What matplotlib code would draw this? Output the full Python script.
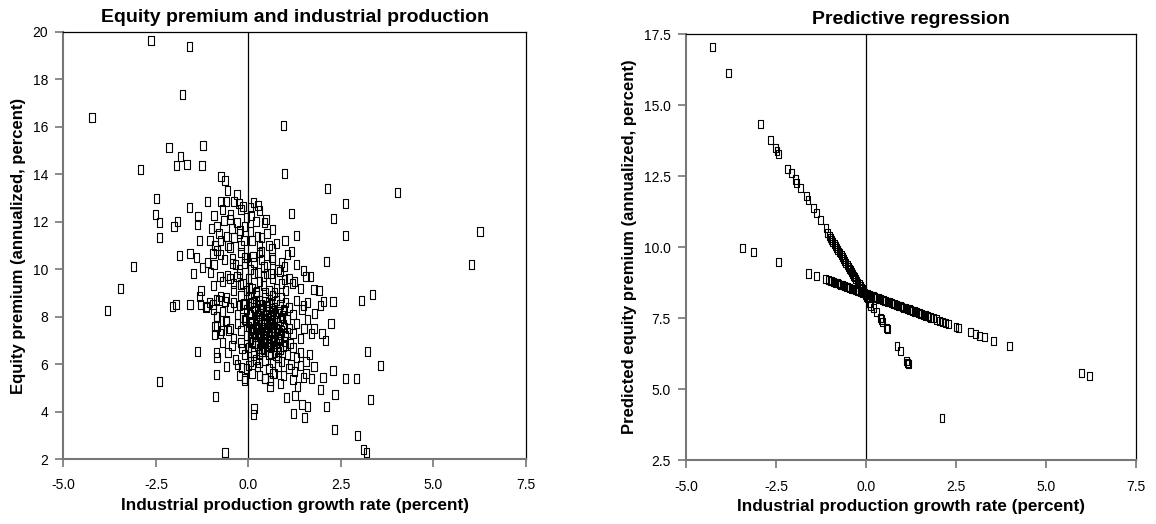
import numpy as np
import matplotlib
matplotlib.use("Agg")
import matplotlib.pyplot as plt
from matplotlib.path import Path

plt.rcParams['font.family'] = ['Liberation Sans', 'DejaVu Sans']
plt.rcParams['axes.unicode_minus'] = False

# ---- left panel: industrial production growth vs equity premium ----
# scattered points
ip_out = [-2.63, -1.60, -1.78, -4.23, 0.94, -2.15, -1.23, -1.84, -1.94, -1.66, -1.26, -2.91,
          0.97, -0.74, -0.63, 2.14, 4.02, -0.56, -2.48, -0.31, 2.63, -1.11, -1.60, -0.76,
          -0.59, -0.39, -0.26, -0.15, 0.14, 0.26, 0.29, -2.51, -1.36, -0.93, -0.49, 0.07,
          1.17, 2.29, -2.40, -1.92, -2.01, -1.38, -0.85, -0.66, -0.31, -0.23, 0.47, 0.43,
          0.65, 6.26, -2.41, -1.33, -1.04, -0.76, -0.39, -0.12, 0.10, 0.35, 0.99, 1.29,
          2.62, 0.64, 0.35, 1.17, -1.86, -1.58, -1.41, -0.96, -0.76, -0.43, -0.11, 0.12,
          0.64, 2.11, 6.03, -3.10, -0.93, -1.25, -0.43, -0.11, 0.42, 0.97, -1.48, -1.03,
          -0.77, -0.57, -0.31, 0.26, 0.41, 0.61, 0.97, 1.49, 1.68, 1.19, -3.46, -1.28,
          -1.33, -0.41, -0.21, 0.01, 0.22, 1.77, 1.91, 3.36, 3.06, 2.02, 2.28, -3.81,
          -2.06, -1.96, -1.58, -1.13, -0.96, -0.86, -0.76, -0.63, 1.49, 1.79, 1.95, 2.23,
          -0.86, -0.61, -0.85, -0.73, -0.54, -0.91, 1.77, 1.99, 2.08, -1.38, -0.86, -0.85,
          3.21, 3.57, 1.77, 2.28, -2.41, -0.86, 1.49, 1.70, 2.01, 2.62, 2.92, 0.86,
          0.58, 1.33, 1.95, -0.89, 1.02, 1.26, 2.34, 3.30, 1.45, 1.59, 2.11, 0.15,
          0.13, 1.22, 1.51, 2.32, 2.95, 3.11, 3.19, -0.63, -0.19, -0.11, 0.45, 0.66]
ep_out = [19.65, 19.39, 17.37, 16.41, 16.04, 15.15, 15.23, 14.75, 14.38, 14.41, 14.38, 14.21,
          14.04, 13.90, 13.72, 13.39, 13.23, 13.30, 12.97, 13.17, 12.77, 12.85, 12.61, 12.85,
          12.86, 12.86, 12.77, 12.63, 12.83, 12.70, 12.49, 12.31, 12.21, 12.28, 12.32, 12.28,
          12.35, 12.15, 11.96, 12.03, 11.82, 11.89, 11.82, 12.04, 11.96, 11.65, 12.10, 11.96,
          11.69, 11.59, 11.35, 11.23, 11.20, 11.23, 11.34, 11.23, 11.23, 11.34, 11.23, 11.42,
          11.42, 10.87, 10.73, 10.75, 10.58, 10.66, 10.48, 10.66, 10.62, 10.45, 10.49, 10.55,
          10.48, 10.32, 10.20, 10.13, 10.20, 10.06, 10.24, 10.24, 10.10, 10.10, 9.82, 9.85,
          9.68, 9.75, 9.68, 9.85, 9.70, 9.82, 9.56, 9.93, 9.68, 9.39, 9.18, 9.11,
          8.86, 9.39, 9.37, 9.25, 9.04, 9.14, 9.11, 8.94, 8.69, 8.62, 8.62, 8.27,
          8.44, 8.51, 8.52, 8.41, 8.51, 8.72, 8.86, 8.62, 8.48, 8.15, 8.48, 7.73,
          8.01, 7.85, 7.59, 7.42, 7.42, 7.24, 7.49, 7.28, 7.00, 6.54, 6.48, 6.30,
          6.54, 5.93, 5.92, 5.73, 5.27, 5.55, 5.45, 5.38, 5.45, 5.38, 5.38, 5.20,
          5.06, 5.06, 4.92, 4.63, 4.58, 4.68, 4.70, 4.52, 4.30, 4.23, 4.23, 4.11,
          3.87, 3.90, 3.76, 3.23, 2.99, 2.42, 2.27, 2.27, 5.87, 5.31, 5.41, 5.59]

# dense cloud around the origin, read band by band
ip_cloud = [-0.20, 0.05, -0.50, -0.70, 0.20, -0.05,
            -1.00, -0.80, -0.60, -0.45, -0.25, -0.10, 0.05, 0.25, 0.50, 0.75, -0.90, -0.55, -0.20, 0.30, 0.55,
            -1.10, -0.85, -0.65, -0.50, -0.35, -0.20, -0.05, 0.15, 0.30, 0.50, 0.65, 0.80, 1.05, -0.25, 0.05,
            0.35, 0.90, 1.30,
            -0.95, -0.70, -0.50, -0.40, -0.25, -0.15, 0.00, 0.10, 0.15, 0.30, 0.40, 0.50, 0.55, 0.65, 0.75,
            0.85, 0.90, 1.00, 1.10, 1.25, 1.40, 1.55, 0.20, -0.05, 0.45, 0.70,
            -1.30, -1.15, -1.05, -0.95, -0.80, -0.70, -0.60, -0.50, -0.40, -0.30, -0.20, -0.15, -0.05, 0.00,
            0.05, 0.10, 0.15, 0.20, 0.25, 0.30, 0.35, 0.40, 0.45, 0.50, 0.55, 0.60, 0.65, 0.70, 0.75, 0.80,
            0.85, 0.90, 0.95, 1.00, 1.10, 1.20, 1.30, 1.45, 1.60, -0.85, -0.25, 0.28, 0.62,
            -0.90, -0.75, -0.60, -0.50, -0.40, -0.30, -0.20, -0.10, -0.05, 0.00, 0.05, 0.10, 0.15, 0.20,
            0.25, 0.30, 0.35, 0.40, 0.42, 0.45, 0.50, 0.52, 0.55, 0.60, 0.62, 0.65, 0.70, 0.72, 0.75, 0.80,
            0.85, 0.90, 0.95, 1.00, 1.05, 1.10, 1.20, 1.30, 1.40, 1.50, 1.60, 1.70, -0.15, 0.33, 0.58,
            0.78, 0.12, 0.48, 0.68, 0.38,
            -0.70, -0.55, -0.45, -0.35, -0.20, -0.10, 0.00, 0.05, 0.10, 0.15, 0.20, 0.25, 0.30, 0.35, 0.40,
            0.45, 0.50, 0.55, 0.60, 0.65, 0.70, 0.75, 0.80, 0.85, 0.90, 1.00, 1.05, 1.15, 1.20, 1.30, 1.40,
            1.55, 1.65, -0.30, 0.28,
            -0.25, -0.10, -0.05, 0.10, 0.25, 0.30, 0.45, 0.55, 0.70, 0.80, 0.95, 1.10, 1.25, 1.40, 1.55,
            -0.60, 0.00, 0.60, 1.20]
ep_cloud = [12.50, 12.60, 12.10, 12.50, 12.00, 12.20,
            11.70, 11.50, 11.40, 11.70, 11.50, 11.80, 11.60, 11.40, 11.50, 11.10, 11.00, 11.00, 11.00, 11.00, 11.00,
            10.30, 10.80, 10.40, 10.90, 10.20, 10.70, 10.50, 10.30, 10.70, 10.20, 10.40, 10.00, 10.60, 10.00, 10.00,
            10.40, 10.30, 10.20,
            9.30, 9.50, 9.60, 9.10, 9.80, 9.40, 9.60, 9.20, 9.80, 9.50, 9.30, 9.80, 9.10, 9.60, 9.20,
            9.90, 9.40, 9.10, 9.60, 9.50, 9.20, 9.70, 9.00, 9.10, 9.00, 9.00,
            8.50, 8.40, 8.60, 8.30, 8.70, 8.20, 8.80, 8.40, 8.60, 8.10, 8.90, 8.50, 8.30, 8.80,
            8.10, 8.60, 8.40, 8.90, 8.20, 8.70, 8.50, 8.05, 8.80, 8.30, 8.60, 8.10, 8.90, 8.40, 8.70, 8.20,
            8.50, 8.80, 8.30, 8.60, 8.40, 8.10, 8.70, 8.30, 8.60, 8.00, 8.45, 8.05, 8.55,
            7.60, 7.30, 7.80, 7.50, 7.10, 7.70, 7.40, 7.90, 7.20, 7.60, 7.05, 7.80, 7.35, 7.60,
            7.15, 7.90, 7.45, 7.70, 7.10, 7.30, 7.85, 7.55, 7.20, 7.65, 7.40, 7.00, 7.75, 7.30, 7.50, 7.10,
            7.85, 7.40, 7.65, 7.20, 7.90, 7.50, 7.30, 7.70, 7.10, 7.50, 7.90, 7.30, 7.95, 7.25, 7.95,
            7.95, 7.50, 7.45, 7.55, 7.55,
            6.90, 6.50, 6.80, 6.20, 6.90, 6.40, 6.70, 6.10, 6.90, 6.50, 6.20, 6.80, 6.40, 6.95, 6.60,
            6.15, 6.85, 6.40, 6.70, 6.05, 6.50, 6.85, 6.30, 6.60, 6.10, 6.80, 6.40, 6.00, 6.70, 6.30, 6.50,
            6.10, 6.40, 6.00, 6.05,
            5.50, 5.40, 5.80, 5.60, 5.90, 5.50, 5.40, 5.80, 5.60, 5.90, 5.50, 5.80, 5.70, 5.95, 5.60,
            5.90, 5.95, 5.30, 5.35]

# the almost solid core of the cloud
ip_core = [0.02, 0.08, 0.14, 0.18, 0.22, 0.27, 0.32, 0.36, 0.41, 0.46, 0.51, 0.56, 0.61, 0.66, 0.71,
           0.76, 0.81, 0.87, 0.92, 0.98,
           0.04, 0.11, 0.17, 0.24, 0.29, 0.34, 0.39, 0.44, 0.49, 0.54, 0.59, 0.64, 0.69, 0.74, 0.79,
           0.84, 0.89, 0.96,
           0.06, 0.13, 0.21, 0.26, 0.31, 0.37, 0.43, 0.47, 0.53, 0.57, 0.63, 0.67, 0.73, 0.77, 0.83, 0.93,
           -0.08, -0.12, -0.18, 0.97, 1.04, 1.12]
ep_core = [8.15, 7.45, 8.65, 6.85, 7.95, 7.25, 8.35, 6.65, 7.85, 7.05, 8.45, 6.95, 7.75, 8.25, 6.75,
           7.95, 6.55, 7.25, 8.05, 6.95,
           7.75, 6.95, 7.15, 8.45, 6.65, 7.65, 8.25, 6.85, 7.35, 8.05, 6.45, 7.85, 7.15, 6.35, 7.45,
           7.05, 7.95, 7.55,
           8.55, 6.35, 7.85, 7.55, 8.15, 6.55, 7.75, 8.45, 6.75, 7.35, 8.35, 6.95, 8.15, 6.75, 7.35, 6.75,
           7.85, 8.55, 6.65, 8.25, 7.35, 6.85]

# ---- right panel: fitted values from the predictive regression ----
ip_steep = [-4.26, -3.82, -2.94, -2.65, -2.52, -2.47, -2.42, -2.17, -2.07, -1.96, -1.92, -1.82,
            -1.66, -1.61, -1.46, -1.38, -1.27, -1.11, -1.06,
            -1.02, -0.98, -0.95, -0.92, -0.88, -0.85, -0.82, -0.78, -0.75, -0.72, -0.69, -0.66,
            -0.62, -0.59, -0.56, -0.52, -0.49, -0.46, -0.43, -0.40, -0.37, -0.34, -0.31, -0.28,
            -0.25, -0.22, -0.19, -0.16, -0.13, -0.10, -0.07, -0.04, -0.01, 0.02, 0.05,
            0.09, 0.12, 0.22, 0.29, 0.40, 0.44, 0.47, 0.58, 0.60, 0.86, 0.97, 1.13, 1.16, 1.18, 2.11]
ep_steep = [17.05, 16.14, 14.33, 13.77, 13.48, 13.39, 13.27, 12.76, 12.62, 12.38, 12.24, 12.07,
            11.80, 11.65, 11.36, 11.19, 10.95, 10.66, 10.50,
            10.39, 10.31, 10.25, 10.19, 10.10, 10.04, 9.98, 9.90, 9.84, 9.78, 9.71, 9.65,
            9.57, 9.51, 9.45, 9.37, 9.30, 9.24, 9.18, 9.12, 9.06, 8.99, 8.94, 8.87,
            8.81, 8.75, 8.69, 8.63, 8.57, 8.51, 8.44, 8.38, 8.32, 8.26, 8.20,
            8.04, 7.92, 7.85, 7.72, 7.49, 7.45, 7.37, 7.14, 7.11, 6.52, 6.34, 6.00, 5.93, 5.88, 3.97]

ip_flat = [-3.44, -3.12, -2.43, -1.59, -1.38, -1.13,
           -1.05, -1.00, -0.95, -0.90, -0.85, -0.80, -0.75, -0.70, -0.65, -0.60, -0.55, -0.50, -0.45,
           -0.40, -0.35, -0.30, -0.25, -0.20, -0.15, -0.10, -0.05, 0.00, 0.05, 0.10, 0.15, 0.20, 0.25,
           0.30, 0.35, 0.40, 0.45, 0.50, 0.55, 0.60, 0.65, 0.70, 0.75, 0.80, 0.85, 0.90, 0.95, 1.00,
           1.05, 1.10, 1.15, 1.20, 1.25, 1.30, 1.35, 1.40, 1.45, 1.50, 1.55, 1.60, 1.65, 1.70, 1.75,
           1.80, 1.88, 1.95, 2.05, 2.12, 2.20, 2.29,
           2.50, 2.57, 2.90, 3.04, 3.16, 3.29, 3.54, 3.99, 5.98, 6.20]
ep_flat = [9.97, 9.83, 9.46, 9.07, 8.98, 8.86,
           8.83, 8.81, 8.79, 8.76, 8.74, 8.72, 8.70, 8.67, 8.65, 8.63, 8.60, 8.58, 8.56,
           8.53, 8.51, 8.49, 8.47, 8.44, 8.42, 8.40, 8.37, 8.35, 8.33, 8.30, 8.28, 8.26, 8.24,
           8.21, 8.19, 8.17, 8.14, 8.12, 8.10, 8.07, 8.05, 8.03, 8.01, 7.98, 7.96, 7.94, 7.91, 7.89,
           7.87, 7.84, 7.82, 7.80, 7.78, 7.75, 7.73, 7.71, 7.68, 7.66, 7.64, 7.61, 7.59, 7.57, 7.55,
           7.52, 7.49, 7.45, 7.41, 7.37, 7.34, 7.30,
           7.19, 7.16, 7.00, 6.94, 6.88, 6.82, 6.70, 6.51, 5.57, 5.47]

x_ticks = [-5.0, -2.5, 0.0, 2.5, 5.0, 7.5]
left_yticks = [2, 4, 6, 8, 10, 12, 14, 16, 18, 20]
right_yticks = [2.5, 5.0, 7.5, 10.0, 12.5, 15.0, 17.5]

# tall open rectangle marker
rect = Path([(-0.3, -0.5), (0.3, -0.5), (0.3, 0.5), (-0.3, 0.5), (-0.3, -0.5)],
            [Path.MOVETO, Path.LINETO, Path.LINETO, Path.LINETO, Path.CLOSEPOLY])

fig = plt.figure(figsize=(11.56, 5.24), dpi=100)
ax1 = fig.add_axes([0.0549, 0.124, 0.4001, 0.815])
ax2 = fig.add_axes([0.5934, 0.122, 0.3893, 0.813])


def style(ax, yticks, fmt):
    ax.set_xlim(-5, 7.5)
    ax.set_ylim(yticks[0], yticks[-1])
    ax.set_xticks(x_ticks)
    ax.set_xticklabels(['%.1f' % t for t in x_ticks])
    ax.set_yticks(yticks)
    ax.set_yticklabels([fmt % t for t in yticks])
    for s in ['left', 'bottom']:
        ax.spines[s].set_color('#777777')
        ax.spines[s].set_linewidth(1.5)
    for s in ['top', 'right']:
        ax.spines[s].set_color('black')
        ax.spines[s].set_linewidth(0.9)
    ax.tick_params(direction='out', length=6, width=1.2, color='#777777', labelsize=10)
    ax.tick_params(axis='x', pad=8)
    ax.tick_params(axis='y', pad=5)
    ax.axvline(0, color='black', linewidth=0.9, zorder=1)


ax1.scatter(ip_out + ip_cloud + ip_core, ep_out + ep_cloud + ep_core, marker=rect, s=42,
            facecolors='none', edgecolors='black', linewidths=0.8, zorder=2)
style(ax1, left_yticks, '%d')
ax1.set_title('Equity premium and industrial production', fontsize=14,
              fontweight='bold', pad=7)
ax1.set_xlabel('Industrial production growth rate (percent)', fontsize=12.3,
               fontweight='bold', labelpad=4)
ax1.set_ylabel('Equity premium (annualized, percent)', fontsize=12,
               fontweight='bold', labelpad=5)

ax2.scatter(ip_steep + ip_flat, ep_steep + ep_flat, marker=rect, s=34,
            facecolors='none', edgecolors='black', linewidths=0.8, zorder=2)
style(ax2, right_yticks, '%.1f')
ax2.set_title('Predictive regression', fontsize=14, fontweight='bold', pad=7)
ax2.set_xlabel('Industrial production growth rate (percent)', fontsize=12.3,
               fontweight='bold', labelpad=4)
ax2.set_ylabel('Predicted equity premium (annualized, percent)', fontsize=12,
               fontweight='bold', labelpad=5)

fig.savefig('out.png', dpi=100)
